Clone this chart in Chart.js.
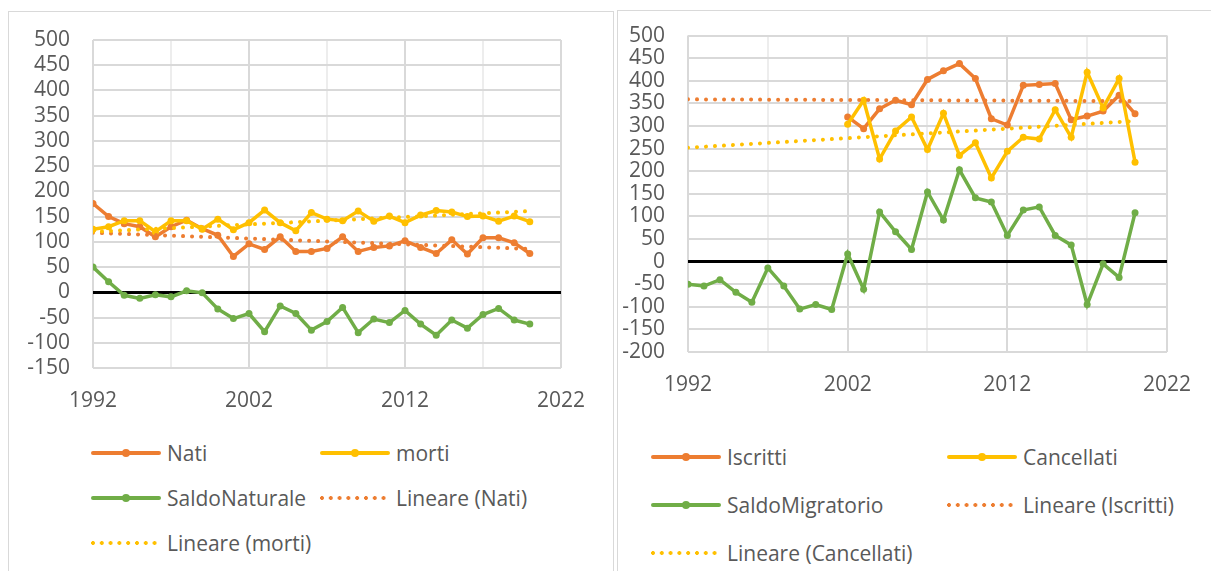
<!DOCTYPE html>
<html lang="it">
<head>
<meta charset="UTF-8">
<title>Saldo naturale e migratorio</title>
<script src="https://cdn.jsdelivr.net/npm/chart.js@4.4.1/dist/chart.umd.min.js"></script>
<style>
    body {
        margin: 0;
        width: 1211px;
        height: 571px;
        overflow: hidden;
        position: relative;
        background: #fff;
        font-family: 'Open Sans', sans-serif;
    }
    .panel {
        position: absolute;
        border: 1px solid #d9d9d9;
        box-sizing: border-box;
    }
    #panelLeft { left: 8px; top: 11px; width: 606px; height: 620px; }
    #panelRight { left: 617px; top: 10px; width: 620px; height: 620px; }
    .chartBox { position: absolute; top: 0; height: 420px; }
    #boxLeft { left: 0; width: 610px; }
    #boxRight { left: 610px; width: 601px; }
    .legend {
        position: absolute;
        display: grid;
        color: #595959;
        font-size: 21px;
    }
    #legendLeft { left: 91px; top: 430px; grid-template-columns: 229px 229px; grid-auto-rows: 45px; }
    #legendRight { left: 651px; top: 433px; grid-template-columns: 296px 240px; grid-auto-rows: 48px; }
    .item { display: flex; align-items: center; white-space: nowrap; }
    .swatch { position: relative; width: 70px; height: 4px; margin-right: 6px; flex: none; }
    .swatch.solid { border-radius: 2px; }
    .swatch.solid span {
        position: absolute; left: 31px; top: -2px;
        width: 8px; height: 8px; border-radius: 50%;
    }
    .swatch.dotted { background-size: 8.8px 4px; background-repeat: repeat-x; }
</style>
</head>
<body>
<div class="panel" id="panelLeft"></div>
<div class="panel" id="panelRight"></div>
<div class="chartBox" id="boxLeft"><canvas id="chartLeft"></canvas></div>
<div class="chartBox" id="boxRight"><canvas id="chartRight"></canvas></div>
<div class="legend" id="legendLeft"></div>
<div class="legend" id="legendRight"></div>
<script>
    // anni 1992-2020
    const years = [1992, 1993, 1994, 1995, 1996, 1997, 1998, 1999, 2000, 2001,
        2002, 2003, 2004, 2005, 2006, 2007, 2008, 2009, 2010, 2011,
        2012, 2013, 2014, 2015, 2016, 2017, 2018, 2019, 2020];
    const yearsMov = [2002, 2003, 2004, 2005, 2006, 2007, 2008, 2009, 2010, 2011,
        2012, 2013, 2014, 2015, 2016, 2017, 2018, 2019, 2020];

    const nati = [176, 150, 136, 130, 110, 130, 143, 126, 113, 71,
        96, 85, 110, 81, 81, 87, 110, 81, 89, 92,
        102, 89, 77, 104, 76, 108, 108, 98, 77];
    const morti = [125, 130, 142, 142, 120, 142, 142, 125, 145, 124,
        138, 163, 138, 122, 158, 145, 142, 161, 141, 151,
        138, 153, 162, 159, 150, 151, 141, 151, 140];
    const saldoNaturale = [50, 21, -6, -12, -5, -9, 3, -1, -33, -52,
        -42, -78, -27, -42, -75, -58, -30, -80, -53, -60,
        -36, -63, -85, -55, -71, -44, -32, -55, -63];

    const iscritti = [320, 294, 338, 357, 347, 403, 422, 438, 405, 316,
        302, 390, 392, 394, 314, 322, 333, 368, 327];
    const cancellati = [304, 357, 227, 289, 320, 248, 328, 235, 263, 185,
        244, 275, 271, 336, 275, 419, 340, 405, 220];
    const saldoMigratorio = [-50, -54, -40, -68, -90, -14, -54, -105, -95, -106,
        17, -61, 110, 66, 27, 154, 92, 203, 141, 132,
        58, 114, 121, 58, 37, -95, -5, -35, 108];

    // linee di tendenza (inizio, fine)
    const trendYears = [1992, 2020];
    const trendNati = [118, 86];
    const trendMorti = [120, 161];
    const trendIscritti = [359, 355];
    const trendCancellati = [252, 311];

    const xGridYears = [1992, 1997, 2002, 2007, 2012, 2017, 2022];
    const xTickLabels = [1992, 2002, 2012, 2022];

    const ORANGE = '#ED7D31', YELLOW = '#FFC000', GREEN = '#70AD47';

    function pts(xs, ys) {
        return xs.map((x, i) => ({ x: x, y: ys[i] }));
    }

    function series(label, color, xs, ys, order) {
        return {
            label: label, data: pts(xs, ys), borderColor: color, backgroundColor: color,
            borderWidth: 3.5, pointRadius: 3.5, pointHoverRadius: 3.5,
            pointBorderWidth: 0, tension: 0, order: order
        };
    }

    function trend(label, color, ys, order) {
        return {
            label: label, data: pts(trendYears, ys), borderColor: color,
            borderWidth: 4, borderDash: [0.01, 9], borderCapStyle: 'round',
            pointRadius: 0, tension: 0, order: order, trend: true
        };
    }

    function makeChart(id, datasets, yMin, yWidth, pad) {
        return new Chart(document.getElementById(id), {
            type: 'line',
            data: { datasets: datasets },
            options: {
                responsive: true,
                maintainAspectRatio: false,
                animation: false,
                events: [],
                layout: { padding: pad },
                plugins: { legend: { display: false }, tooltip: { enabled: false } },
                scales: {
                    x: {
                        type: 'linear', min: 1992, max: 2022,
                        afterBuildTicks: s => { s.ticks = xGridYears.map(v => ({ value: v })); },
                        afterFit: s => { s.height = 40; },
                        border: { display: false },
                        grid: {
                            drawTicks: false, lineWidth: 2,
                            color: c => xTickLabels.includes(c.tick.value) ? '#d9d9d9' : '#ededed'
                        },
                        ticks: {
                            autoSkip: false, maxRotation: 0, padding: 20, color: '#595959',
                            font: { family: 'Open Sans', size: 21 },
                            callback: v => xTickLabels.includes(v) ? String(v) : ''
                        }
                    },
                    y: {
                        min: yMin, max: 500,
                        afterFit: s => { s.width = yWidth; },
                        border: { display: false },
                        grid: {
                            drawTicks: false,
                            color: c => c.tick.value === 0 ? '#000' : '#d9d9d9',
                            lineWidth: c => c.tick.value === 0 ? 3 : 2
                        },
                        ticks: {
                            stepSize: 50, autoSkip: false, padding: 23, color: '#595959',
                            font: { family: 'Open Sans', size: 21 }
                        }
                    }
                }
            }
        });
    }

    function buildLegend(chart, el) {
        chart.data.datasets.forEach(ds => {
            const item = document.createElement('div');
            item.className = 'item';
            const sw = document.createElement('div');
            if (ds.trend) {
                sw.className = 'swatch dotted';
                sw.style.backgroundImage = `radial-gradient(circle at 2px 2px, ${ds.borderColor} 1.7px, transparent 2.2px)`;
            } else {
                sw.className = 'swatch solid';
                sw.style.background = ds.borderColor;
                const dot = document.createElement('span');
                dot.style.background = ds.borderColor;
                sw.appendChild(dot);
            }
            const txt = document.createElement('span');
            txt.textContent = ds.label;
            item.appendChild(sw);
            item.appendChild(txt);
            el.appendChild(item);
        });
    }

    const left = makeChart('chartLeft', [
        series('Nati', ORANGE, years, nati, 5),
        series('morti', YELLOW, years, morti, 4),
        series('SaldoNaturale', GREEN, years, saldoNaturale, 3),
        trend('Lineare (Nati)', ORANGE, trendNati, 2),
        trend('Lineare (morti)', YELLOW, trendMorti, 1)
    ], -150, 93, { left: 0, top: 40, right: 49, bottom: 12 });

    const right = makeChart('chartRight', [
        series('Iscritti', ORANGE, yearsMov, iscritti, 5),
        series('Cancellati', YELLOW, yearsMov, cancellati, 4),
        series('SaldoMigratorio', GREEN, years, saldoMigratorio, 3),
        trend('Lineare (Iscritti)', ORANGE, trendIscritti, 2),
        trend('Lineare (Cancellati)', YELLOW, trendCancellati, 1)
    ], -200, 78, { left: 0, top: 30, right: 29, bottom: 28 });

    buildLegend(left, document.getElementById('legendLeft'));
    buildLegend(right, document.getElementById('legendRight'));
</script>
</body>
</html>
